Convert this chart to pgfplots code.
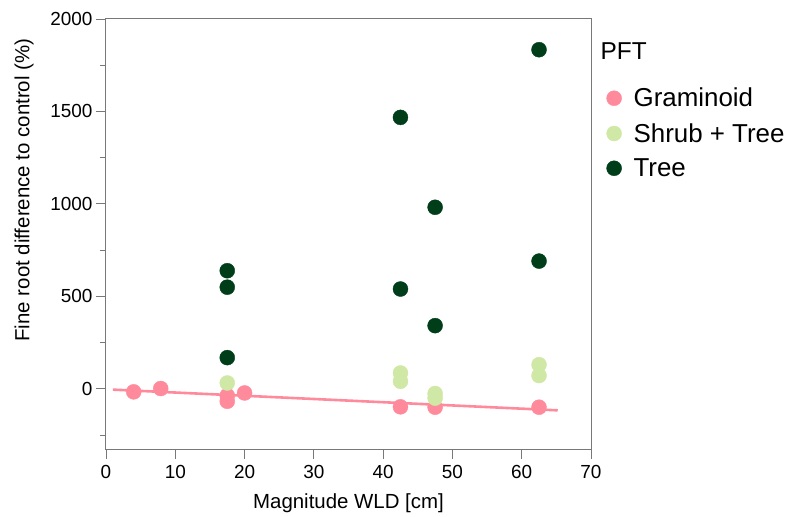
\documentclass[border=0pt]{standalone}
\usepackage{fontspec}
\setmainfont{Liberation Sans}
\usepackage{pgfplots}
\pgfplotsset{compat=1.18}
\definecolor{gram}{RGB}{255,138,155}
\definecolor{shrub}{RGB}{208,232,165}
\definecolor{tree}{RGB}{0,62,25}
\definecolor{axgray}{RGB}{120,120,120}
\begin{document}
\begin{tikzpicture}
\begin{axis}[
  scale only axis, width=485bp, height=430bp,
  xmin=0, xmax=70, ymin=-325, ymax=2000,
  clip=false,
  xtick={0,10,...,70}, ytick={0,500,...,2000},
  minor ytick={-250,250,750,1250,1750},
  tick align=outside, major tick length=10bp, minor tick length=6bp,
  tick style={color=axgray, line width=0.9bp},
  axis line style={axgray, line width=1bp},
  xtick pos=bottom, ytick pos=left,
  /pgf/number format/assume math mode=true,
  /pgf/number format/1000 sep={},
  every tick label/.append style={font=\fontsize{19}{22}\selectfont},
  xticklabel style={yshift=-3bp},
  xlabel={Magnitude WLD [cm]},
  ylabel={Fine root difference to control (\%)},
  label style={font=\fontsize{20.5}{24}\selectfont},
  xlabel style={at={(axis description cs:0.5,-0.1395)}, anchor=base},
  ylabel style={at={(axis description cs:-0.1690,0.602)}, anchor=center},
  legend style={draw=none, fill=none, at={(axis description cs:1.0256,0.849)}, anchor=north west,
    font=\fontsize{26}{30}\selectfont, row sep=11bp,
    /tikz/every odd column/.append style={column sep=10bp}},
  legend cell align=left,
  mark size=7.5bp,
]
\addplot[gram, line width=2.6bp, forget plot] coordinates {(1,-4) (65.2,-116)};
\addplot[only marks, mark=*, gram, mark options={draw=gram, fill=gram}] coordinates {
 (4,-16) (7.9,2) (17.5,-36) (17.5,-67) (20,-22) (42.5,-97) (47.5,-99) (62.5,-99)};
\addlegendentry{Graminoid}
\addplot[only marks, mark=*, shrub, mark options={draw=shrub, fill=shrub}] coordinates {
 (17.5,32) (42.5,86) (42.5,41) (47.5,-25) (47.5,-50) (62.5,131) (62.5,72)};
\addlegendentry{Shrub + Tree}
\addplot[only marks, mark=*, tree, mark options={draw=tree, fill=tree}] coordinates {
 (17.5,639) (17.5,550) (17.5,169) (42.5,1468) (42.5,540) (47.5,982) (47.5,342) (62.5,1834) (62.5,691)};
\addlegendentry{Tree}
\node[anchor=base west, inner sep=0pt, font=\fontsize{24.5}{28}\selectfont] at (axis description cs:1.0196,0.905) {PFT};
\end{axis}
\pgfresetboundingbox
\useasboundingbox (-106bp,-68bp) rectangle (687bp,449bp);
\end{tikzpicture}
\end{document}
